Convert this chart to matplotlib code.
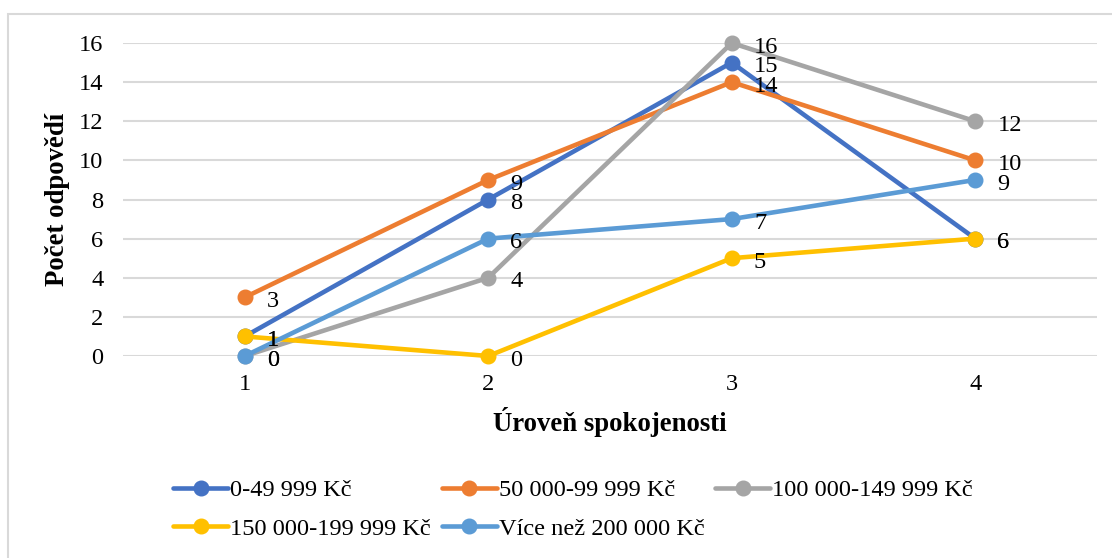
import matplotlib
matplotlib.use('Agg')
import matplotlib.pyplot as plt
from matplotlib.patches import Rectangle

plt.rcParams['font.family'] = ['Liberation Serif', 'DejaVu Serif']

# data
levels = [1, 2, 3, 4]
series_names = ['0-49 999 Kč', '50 000-99 999 Kč', '100 000-149 999 Kč',
                '150 000-199 999 Kč', 'Více než 200 000 Kč']
s1 = [1, 8, 15, 6]
s2 = [3, 9, 14, 10]
s3 = [0, 4, 16, 12]
s4 = [1, 0, 5, 6]
s5 = [0, 6, 7, 9]
colors = ['#4472C4', '#ED7D31', '#A5A5A5', '#FFC000', '#5B9BD5']

W, H = 1112, 558
fig = plt.figure(figsize=(W / 100, H / 100), dpi=100)
ax = fig.add_axes([123 / W, 1 - 356 / H, (1097 - 123) / W, (356 - 43) / H])

# chart border
fig.patches.append(Rectangle((8 / W, -0.05), 1.1, (H - 14) / H + 0.05,
                             transform=fig.transFigure, fill=False,
                             edgecolor='#D9D9D9', linewidth=1.5, zorder=0))

fs = 17.6
lines = []
for vals, name, col in zip([s1, s2, s3, s4, s5], series_names, colors):
    ln, = ax.plot(levels, vals, color=col, lw=3.3, marker='o', ms=10.5,
                  label=name, solid_capstyle='round', clip_on=False)
    lines.append(ln)
    for x, v in zip(levels, vals):
        ax.annotate(str(v), (x, v), xytext=(16, -3), textcoords='offset points',
                    ha='left', va='center', fontsize=fs, zorder=10)

ax.set_xlim(0.5, 4.5)
ax.set_ylim(0, 16)
ax.set_xticks(levels)
ax.set_yticks(range(0, 17, 2))
ax.tick_params(length=0, labelsize=fs)
ax.tick_params(axis='x', pad=13)
ax.tick_params(axis='y', pad=14)
ax.grid(axis='y', color='#D9D9D9', lw=1.5)
ax.set_axisbelow(True)
for sp in ax.spines.values():
    sp.set_visible(False)

ax.set_ylabel('Počet odpovědí', fontsize=19.3, fontweight='bold', va='center')
ax.yaxis.set_label_coords((58 - 123) / (1097 - 123), 0.5)
ax.set_xlabel('Úroveň spokojenosti', fontsize=19.3, fontweight='bold', va='center')
ax.xaxis.set_label_coords(0.5, (356 - 422) / (356 - 43))

order = [0, 3, 1, 4, 2]
fig.legend([lines[i] for i in order], [series_names[i] for i in order],
           ncol=3, loc='upper left', bbox_to_anchor=(173 / W, 1 - 479 / H),
           frameon=False, fontsize=fs, handlelength=2.25, handletextpad=0.08,
           columnspacing=0.45, labelspacing=0.68, borderpad=0, borderaxespad=0,
           numpoints=1)

fig.savefig('out.png', dpi=100)
